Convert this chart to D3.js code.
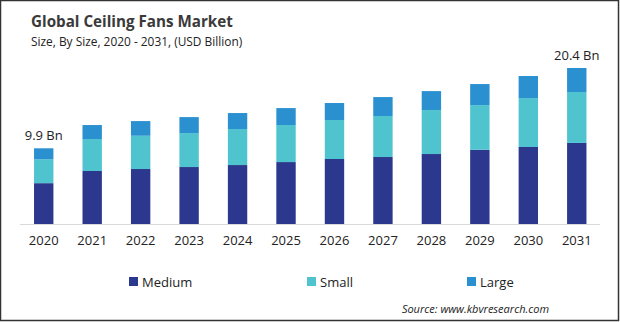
<!DOCTYPE html>
<html>
<head>
<meta charset="utf-8">
<script src="https://cdn.jsdelivr.net/npm/d3@7"></script>
<style>
  html, body { margin: 0; padding: 0; background: #fff; }
  svg { display: block; }
</style>
</head>
<body>
<svg id="chart" width="620" height="322"></svg>
<script>
// Market size by fan size, USD billion
const years  = ["2020","2021","2022","2023","2024","2025","2026","2027","2028","2029","2030","2031"];
const medium = [5.34, 6.93, 7.19, 7.45, 7.71, 8.10, 8.50, 8.76, 9.15, 9.71, 10.07, 10.60];
const small  = [3.13, 4.18, 4.35, 4.44, 4.71, 4.84, 5.10, 5.36, 5.75, 5.84, 6.40, 6.66];
const large  = [1.43, 1.83, 1.92, 2.09, 2.09, 2.22, 2.22, 2.48, 2.48, 2.75, 2.88, 3.14];
const seriesNames = ["Medium", "Small", "Large"];
const seriesColors = ["#2c388d", "#4fc4cf", "#2b90d0"];
const endLabels = [{ year: "2020", text: "9.9 Bn" }, { year: "2031", text: "20.4 Bn" }];

const font = "'Open Sans', sans-serif";
const svg = d3.select("#chart");
const W = 620, H = 322;

svg.append("rect").attr("x", 0.5).attr("y", 0.5).attr("width", W - 2).attr("height", H - 2)
  .attr("fill", "#fff").attr("stroke", "#333").attr("stroke-width", 1.5);

const rows = years.map((y, i) => ({ year: y, Medium: medium[i], Small: small[i], Large: large[i] }));
const stacked = d3.stack().keys(seriesNames)(rows);

const x = d3.scaleBand().domain(years).range([19.5, 601]).paddingInner(0.6).paddingOuter(0.3);
const totals = rows.map(r => r.Medium + r.Small + r.Large);
const y = d3.scaleLinear().domain([0, 20.4]).range([224, 68]);
const color = d3.scaleOrdinal().domain(seriesNames).range(seriesColors);

// Title block
svg.append("text").attr("x", 31).attr("y", 27)
  .attr("font-family", font).attr("font-weight", 700).attr("font-size", 15.2)
  .attr("fill", "#3a3a3a").text("Global Ceiling Fans Market");
svg.append("text").attr("x", 31).attr("y", 46)
  .attr("font-family", font).attr("font-size", 11.9)
  .attr("fill", "#222").text("Size, By Size, 2020 - 2031, (USD Billion)");

// Stacked bars
svg.append("g").selectAll("g").data(stacked).join("g")
  .attr("fill", d => color(d.key))
  .selectAll("rect").data(d => d).join("rect")
  .attr("x", d => x(d.data.year))
  .attr("width", x.bandwidth())
  .attr("y", d => y(d[1]))
  .attr("height", d => y(d[0]) - y(d[1]));

// Baseline axis
const xAxis = svg.append("g").attr("transform", `translate(0,${y(0)})`)
  .call(d3.axisBottom(x).tickSize(0).tickPadding(12));
xAxis.select(".domain").attr("stroke", "#d9d9d9").attr("d", "M20,0.5H600");
xAxis.selectAll("text").attr("font-family", font).attr("font-size", 13).attr("fill", "#222");

// Total labels on first and last bar
svg.append("g").selectAll("text").data(endLabels).join("text")
  .attr("x", d => x(d.year) + x.bandwidth() / 2)
  .attr("y", d => y(totals[years.indexOf(d.year)]) - 8)
  .attr("text-anchor", "middle")
  .attr("font-family", font).attr("font-size", 13).attr("fill", "#222")
  .text(d => d.text);

// Legend
const legendX = [129, 307, 467];
const legend = svg.append("g").selectAll("g").data(seriesNames).join("g")
  .attr("transform", (d, i) => `translate(${legendX[i]},277)`);
legend.append("rect").attr("width", 9).attr("height", 9).attr("fill", d => color(d));
legend.append("text").attr("x", 13).attr("y", 9.5)
  .attr("font-family", font).attr("font-size", 13).attr("fill", "#222").text(d => d);

// Source note
svg.append("text").attr("x", 549).attr("y", 313).attr("text-anchor", "end")
  .attr("font-family", font).attr("font-style", "italic").attr("font-size", 11)
  .attr("fill", "#222").text("Source: www.kbvresearch.com");
</script>
</body>
</html>
